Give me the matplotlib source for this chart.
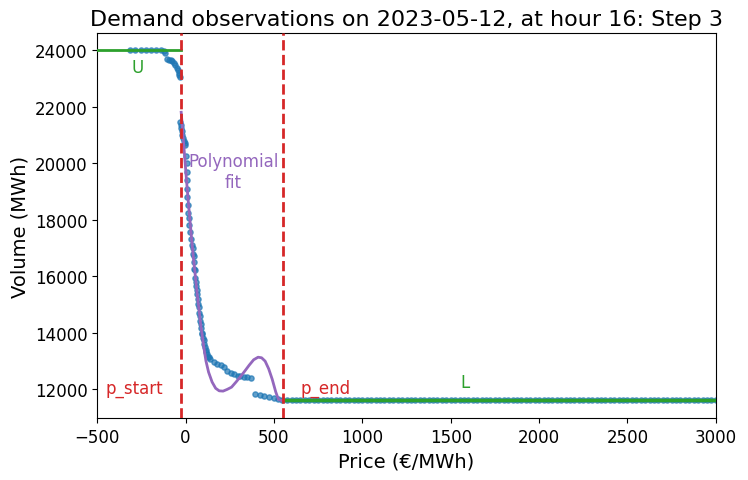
import numpy as np
import matplotlib.pyplot as plt

# demand curve observations (price in EUR/MWh, volume in MWh)
price_u = [-315, -285, -255, -225, -195, -165, -140, -125, -115, -105, -95, -85,
           -75, -65, -58, -50, -45, -40, -35, -30]
vol_u = [24000, 24000, 24000, 24000, 24000, 24000, 24000, 23980, 23900, 23700, 23650, 23640,
         23610, 23560, 23470, 23380, 23300, 23200, 23120, 23050]

price_mid = [-30, -28, -26, -22, -18, -14, -10, -6, -3, 3, 6, 8, 9, 10, 10, 12, 15, 18,
             22, 26, 32, 37, 42, 46, 50, 55, 60, 65, 70, 75, 82, 88, 95, 102, 110, 118,
             125, 140, 160, 180, 200, 215, 235, 255, 275, 295, 310, 330, 350, 370,
             390, 420, 445, 470, 500, 525, 545,
             40, 45, 52, 58, 63, 68, 73, 79, 85, 92, 98, 106, 114, 122, 130]
vol_mid = [21450, 21350, 21250, 21150, 21000, 20900, 20800, 20700, 20650, 20250, 20000,
           19700, 19400, 19100, 18800, 18500, 18250, 18050, 17800, 17550, 17300, 17100,
           16800, 16500, 16250, 15950, 15650, 15350, 15000, 14700, 14400, 14150, 13950,
           13750, 13500, 13300, 13150, 13050, 12950, 12900, 12850, 12780, 12640, 12560,
           12520, 12480, 12460, 12440, 12420, 12400, 11830, 11780, 11750, 11720, 11680,
           11650, 11630,
           17000, 16700, 16200, 15800, 15500, 15200, 14900, 14600, 14300, 14000, 13800,
           13600, 13400, 13250, 13150]

price_l = [575, 600, 625, 650, 675, 700, 725, 750, 775, 800, 825, 850, 875, 900, 925,
           950, 975, 1000, 1025, 1050, 1075, 1100, 1125, 1150, 1175, 1200, 1225, 1250,
           1275, 1300, 1325, 1350, 1375, 1400, 1425, 1450, 1475, 1500, 1525, 1550, 1575,
           1600, 1625, 1650, 1675, 1700, 1725, 1750, 1775, 1800, 1825, 1850, 1875, 1900,
           1925, 1950, 1975, 2000, 2025, 2050, 2075, 2100, 2125, 2150, 2175, 2200, 2225,
           2250, 2275, 2300, 2325, 2350, 2375, 2400, 2425, 2450, 2475, 2500, 2525, 2550,
           2575, 2600, 2625, 2650, 2675, 2700, 2725, 2750, 2775, 2800, 2825, 2850, 2875,
           2900, 2925, 2950, 2975, 3000]
vol_l = [11600] * len(price_l)

# polynomial fit curve as drawn between p_start and p_end
price_fit = [-25, -15, -5, 5, 15, 25, 35, 45, 55, 65, 75, 85, 95, 105, 115, 130, 150,
             170, 190, 212, 235, 260, 285, 310, 335, 360, 385, 410, 430, 450, 470, 490,
             510, 525, 540, 550]
vol_fit = [21800, 21000, 20200, 19400, 18650, 17950, 17250, 16600, 16000, 15400, 14850,
           14300, 13850, 13400, 13000, 12600, 12250, 12030, 11940, 11930, 11990, 12070,
           12250, 12440, 12640, 12850, 13040, 13130, 13110, 12990, 12720, 12350, 11900,
           11640, 11600, 11600]

p_start = -25
p_end = 550
U = 24000
L = 11600

all_p = price_u + price_mid + price_l
all_v = vol_u + vol_mid + vol_l

fig, ax = plt.subplots(figsize=(7.48, 4.81), dpi=100)
fig.subplots_adjust(left=0.13, right=0.957, top=0.929, bottom=0.129)

ax.scatter(all_p, all_v, s=14, color='#1f77b4', alpha=0.7, zorder=2)
ax.plot([-500, p_start], [U, U], color='#2ca02c', lw=2, zorder=3)
ax.plot([p_end, 3000], [L, L], color='#2ca02c', lw=2.5, zorder=3)
ax.plot(price_fit, vol_fit, color='#9467bd', lw=2, zorder=3)
ax.axvline(p_start, color='#d62728', ls='--', lw=2, zorder=4)
ax.axvline(p_end, color='#d62728', ls='--', lw=2, zorder=4)

ax.text(-270, 23400, 'U', color='#2ca02c', fontsize=12, ha='center', va='center')
ax.text(1580, 12250, 'L', color='#2ca02c', fontsize=12, ha='center', va='center')
ax.text(-290, 12050, 'p_start', color='#d62728', fontsize=12, ha='center', va='center')
ax.text(790, 12050, 'p_end', color='#d62728', fontsize=12, ha='center', va='center')
ax.text(270, 19700, 'Polynomial\nfit', color='#9467bd', fontsize=12, ha='center', va='center')

ax.set_xlim(-500, 3000)
ax.set_ylim(10980, 24600)
ax.set_xticks([-500, 0, 500, 1000, 1500, 2000, 2500, 3000])
ax.set_yticks([12000, 14000, 16000, 18000, 20000, 22000, 24000])
ax.tick_params(labelsize=12)
ax.set_xlabel('Price (€/MWh)', fontsize=14)
ax.set_ylabel('Volume (MWh)', fontsize=14)
ax.set_title('Demand observations on 2023-05-12, at hour 16: Step 3', fontsize=16)

fig.savefig('out.png')
